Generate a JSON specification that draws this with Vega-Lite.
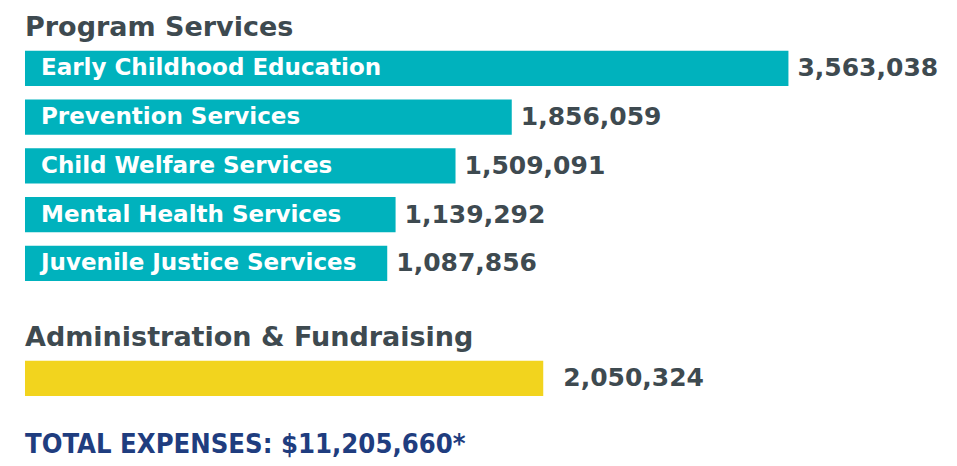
{
  "$schema": "https://vega.github.io/schema/vega-lite/v6.json",
  "padding": {"left": 25, "top": 14, "right": 0, "bottom": 0},
  "background": "white",
  "title": {
    "text": "TOTAL EXPENSES: $11,205,660*",
    "orient": "bottom",
    "anchor": "start",
    "font": "DejaVu Sans Condensed",
    "fontSize": 27.2,
    "fontWeight": "bold",
    "color": "#1F3D7F",
    "offset": 29
  },
  "spacing": 36,
  "vconcat": [
    {
      "title": {"text": "Program Services", "anchor": "start", "font": "DejaVu Sans", "fontSize": 27, "fontWeight": "bold", "color": "#3E4A50", "offset": 2},
      "width": 932,
      "height": {"step": 48.75},
      "data": {"values": [
        {"category": "Early Childhood Education", "amount": 3563038},
        {"category": "Prevention Services", "amount": 1856059},
        {"category": "Child Welfare Services", "amount": 1509091},
        {"category": "Mental Health Services", "amount": 1139292},
        {"category": "Juvenile Justice Services", "amount": 1087856}
      ]},
      "encoding": {
        "y": {"field": "category", "type": "nominal", "sort": null, "axis": null, "scale": {"paddingInner": 0.28, "paddingOuter": 0.14}}
      },
      "layer": [
        {"mark": {"type": "bar", "color": "#00B2BD"},
         "encoding": {
           "x": {"field": "amount", "type": "quantitative", "axis": null, "scale": {"domain": [-1147000, 4603000], "zero": false, "nice": false}},
           "x2": {"datum": -1147000}
         }},
        {"mark": {"type": "text", "align": "left", "baseline": "middle", "dx": 16, "color": "white", "font": "DejaVu Sans", "fontWeight": "bold", "fontSize": 23},
         "encoding": {
           "x": {"datum": -1147000, "type": "quantitative"},
           "text": {"field": "category"}
         }},
        {"mark": {"type": "text", "align": "left", "baseline": "middle", "dx": 9, "color": "#3E4A50", "font": "DejaVu Sans", "fontWeight": "bold", "fontSize": 25},
         "encoding": {
           "x": {"field": "amount", "type": "quantitative"},
           "text": {"field": "amount", "format": ","}
         }}
      ]
    },
    {
      "title": {"text": "Administration & Fundraising", "anchor": "start", "font": "DejaVu Sans", "fontSize": 27, "fontWeight": "bold", "color": "#3E4A50", "offset": 2},
      "width": 932,
      "height": {"step": 48.75},
      "data": {"values": [
        {"category": "Administration & Fundraising", "amount": 2050324}
      ]},
      "encoding": {
        "y": {"field": "category", "type": "nominal", "sort": null, "axis": null, "scale": {"paddingInner": 0.28, "paddingOuter": 0.14}}
      },
      "layer": [
        {"mark": {"type": "bar", "color": "#F2D41E"},
         "encoding": {
           "x": {"field": "amount", "type": "quantitative", "axis": null, "scale": {"domain": [-1147000, 4603000], "zero": false, "nice": false}},
           "x2": {"datum": -1147000}
         }},
        {"mark": {"type": "text", "align": "left", "baseline": "middle", "dx": 20, "color": "#3E4A50", "font": "DejaVu Sans", "fontWeight": "bold", "fontSize": 25},
         "encoding": {
           "x": {"field": "amount", "type": "quantitative"},
           "text": {"field": "amount", "format": ","}
         }}
      ]
    }
  ],
  "config": {"view": {"stroke": null}}
}
